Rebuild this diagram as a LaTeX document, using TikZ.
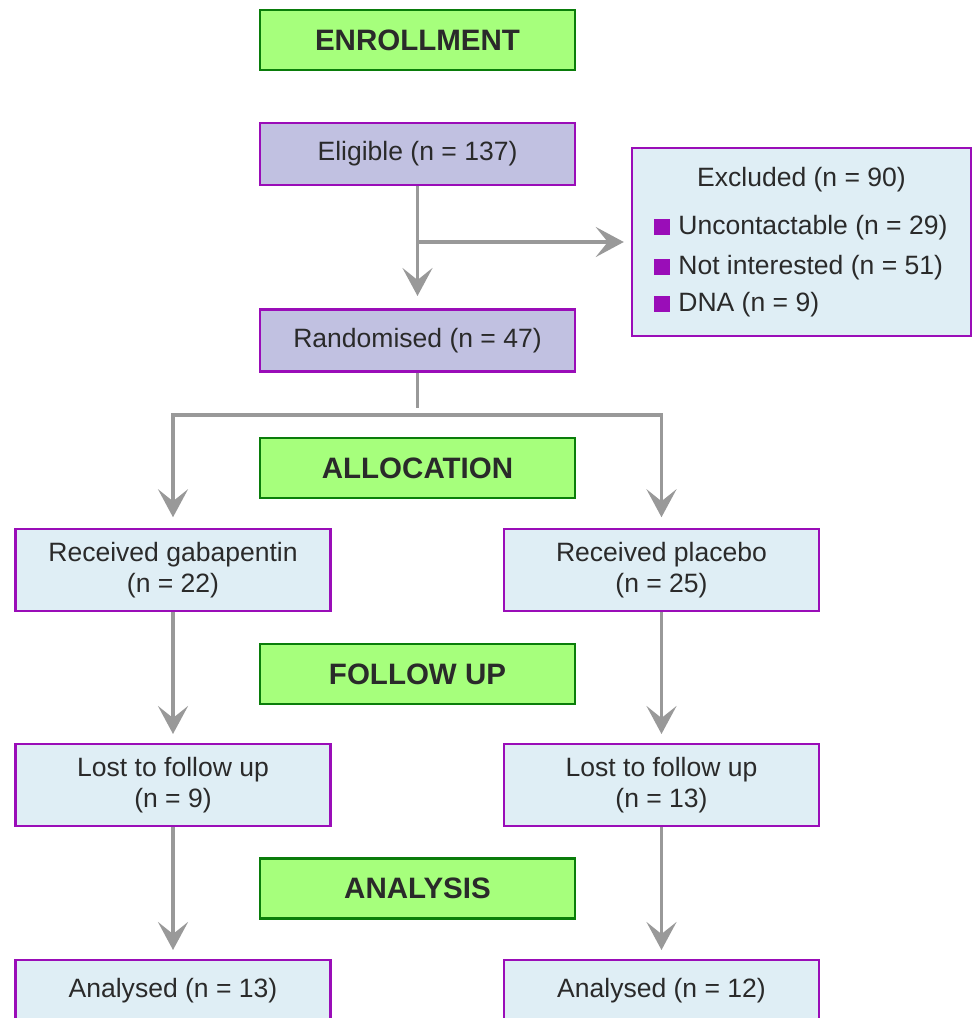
\documentclass[tikz,border=0pt]{standalone}
\usepackage{fontspec}
\setmainfont{Liberation Sans}
\usetikzlibrary{arrows.meta, positioning}

\definecolor{headfill}{HTML}{A6FF7C}
\definecolor{headline}{HTML}{0A7D0A}
\definecolor{lavfill}{HTML}{C1C1E1}
\definecolor{boxline}{HTML}{9A0DB8}
\definecolor{bluefill}{HTML}{DFEEF5}
\definecolor{arrowgrey}{HTML}{999999}
\definecolor{txtgrey}{HTML}{2A2A2A}

\newcommand{\purplesq}{\textcolor{boxline}{\rule{0.32cm}{0.32cm}}\hspace{0.16cm}}

\begin{document}
\begin{tikzpicture}[
            x = 0.02cm, y = -0.02cm, % one unit = one pixel
            > = {Stealth[length=5.6mm, width=6mm, inset=2.4mm]},
            shorten > = 4pt, % keep arrow head off the box
            font = \fontsize{15.1}{17.6}\selectfont,
            text = txtgrey
        ]

        \tikzstyle{stage}=[
            draw = headline,
            fill = headfill,
            line width = 1.4pt,
            minimum width = 6.3cm,
            minimum height = 1.2cm,
            font = \fontsize{16.8}{19}\selectfont\bfseries
        ]
        \tikzstyle{lav}=[
            draw = boxline,
            fill = lavfill,
            line width = 1.4pt,
            minimum width = 6.3cm,
            minimum height = 1.24cm
        ]
        \tikzstyle{arm}=[
            draw = boxline,
            fill = bluefill,
            line width = 1.4pt,
            minimum width = 6.3cm,
            minimum height = 1.64cm,
            align = center
        ]
        \tikzstyle{flow}=[
            color = arrowgrey,
            line width = 1.9pt
        ]

        \useasboundingbox (0,0) rectangle (972,1018);
        \clip (0,0) rectangle (972,1018);

	% stage headers
	\node[stage] (enrol) at (417.5,40) {ENROLLMENT};
	\node[stage] (alloc) at (417.5,468) {ALLOCATION};
	\node[stage] (follow) at (417.5,674) {FOLLOW UP};
	\node[stage] (anal) at (417.5,888.5) {ANALYSIS};

	% enrolment
	\node[lav] (elig) at (417.5,154) {Eligible (n = 137)};
	\node[lav] (rand) at (417.5,340.5) {Randomised (n = 47)};
	\node[arm, minimum width = 6.78cm, minimum height = 3.76cm] (excl) at (801.5,242) {};
	\node (exclt) at (801.5,180) {Excluded (n = 90)};
	\node[anchor=west, inner sep=0pt] (unc) at (654,228) {\purplesq Uncontactable (n = 29)};
	\node[anchor=west, inner sep=0pt] (noti) at (654,268) {\purplesq Not interested (n = 51)};
	\node[anchor=west, inner sep=0pt] (dna) at (654,305) {\purplesq DNA (n = 9)};

	% two arms
	\node[arm] (gaba) at (173,570) {Received gabapentin\\(n = 22)};
	\node[arm] (plac) at (661.5,570) {Received placebo\\(n = 25)};
	\node[arm] (lostg) at (173,785) {Lost to follow up\\(n = 9)};
	\node[arm] (lostp) at (661.5,785) {Lost to follow up\\(n = 13)};
	\node[arm, minimum height = 1.24cm] (analg) at (173,991) {Analysed (n = 13)};
	\node[arm, minimum height = 1.24cm] (analp) at (661.5,991) {Analysed (n = 12)};

	\coordinate (split) at (417.5,415);

        \draw[flow, ->, shorten > = 7pt] (elig) -- (rand);
        \draw[flow, ->] (elig.south |- excl.west) -- (excl.west);
        \draw[flow] (rand.south) -- (split);
        \draw[flow, ->, shorten > = 6pt] (split) -| (gaba.north);
        \draw[flow, ->, shorten > = 6pt] (split) -| (plac.north);
        \draw[flow, ->, shorten > = 5pt] (gaba) -- (lostg);
        \draw[flow, ->, shorten > = 5pt] (plac) -- (lostp);
        \draw[flow, ->, shorten > = 5pt] (lostg) -- (analg);
        \draw[flow, ->, shorten > = 5pt] (lostp) -- (analp);

    \end{tikzpicture}
\end{document}
